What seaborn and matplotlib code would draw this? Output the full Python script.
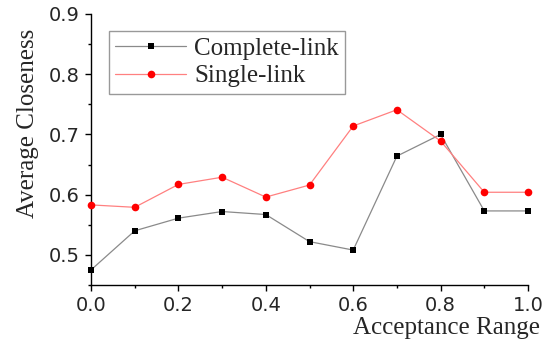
import matplotlib
matplotlib.use("Agg")
import matplotlib.pyplot as plt
import pandas as pd
import seaborn as sns
from matplotlib.ticker import MultipleLocator

sns.set_style("ticks")
plt.rcParams['font.family'] = ['DejaVu Sans']

acceptance = [0.0, 0.1, 0.2, 0.3, 0.4, 0.5, 0.6, 0.7, 0.8, 0.9, 1.0]
complete_link = [0.475, 0.540, 0.561, 0.572, 0.567, 0.522, 0.508, 0.664, 0.700, 0.573, 0.573]
single_link = [0.583, 0.579, 0.617, 0.629, 0.596, 0.616, 0.714, 0.741, 0.689, 0.604, 0.604]

df = pd.DataFrame({'x': acceptance, 'complete': complete_link, 'single': single_link})

fig = plt.figure(figsize=(5.47, 3.43), dpi=100)
ax = fig.add_axes([91 / 547, 1 - 285 / 343, 437 / 547, 271 / 343])

sns.lineplot(data=df, x='x', y='complete', ax=ax, color='#8a8a8a', lw=0.9,
             marker='s', markersize=5, markerfacecolor='black',
             markeredgecolor='black', markeredgewidth=0,
             label='Complete-link', clip_on=False, zorder=3)
sns.lineplot(data=df, x='x', y='single', ax=ax, color='#ff8080', lw=0.9,
             marker='o', markersize=5.5, markerfacecolor='red',
             markeredgecolor='red', markeredgewidth=0,
             label='Single-link', clip_on=False, zorder=3)

ax.set_xlim(0, 1)
ax.set_ylim(0.45, 0.9)
ax.xaxis.set_major_locator(MultipleLocator(0.2))
ax.xaxis.set_minor_locator(MultipleLocator(0.1))
ax.yaxis.set_major_locator(MultipleLocator(0.1))
ax.yaxis.set_minor_locator(MultipleLocator(0.05))
ax.tick_params(which='major', direction='out', length=4, width=1, labelsize=14,
               color='black', pad=4)
ax.tick_params(which='minor', direction='out', length=2.5, width=1, color='black')
ax.set_xticklabels([f'{v:.1f}' for v in ax.get_xticks()])
ax.set_yticklabels([f'{v:.1f}' for v in ax.get_yticks()])

sns.despine(ax=ax)
for s in ['left', 'bottom']:
    ax.spines[s].set_color('black')
    ax.spines[s].set_linewidth(1)

serif = ['Liberation Serif', 'DejaVu Serif']
ax.set_xlabel('Acceptance Range', fontsize=18, family=serif, ha='right')
ax.xaxis.set_label_coords(1.027, -0.117)
ax.set_ylabel('Average Closeness', fontsize=18, family=serif)
ax.yaxis.set_label_coords(-0.12, 0.598)

leg = ax.legend(loc='upper left', bbox_to_anchor=(0.041, 0.937), borderaxespad=0,
                fancybox=False, frameon=True, edgecolor='#808080',
                prop={'family': serif, 'size': 18}, handlelength=2.85,
                handletextpad=0.3, labelspacing=0.2, borderpad=0.25)
leg.get_frame().set_linewidth(1)

fig.savefig('out.png', dpi=100)
